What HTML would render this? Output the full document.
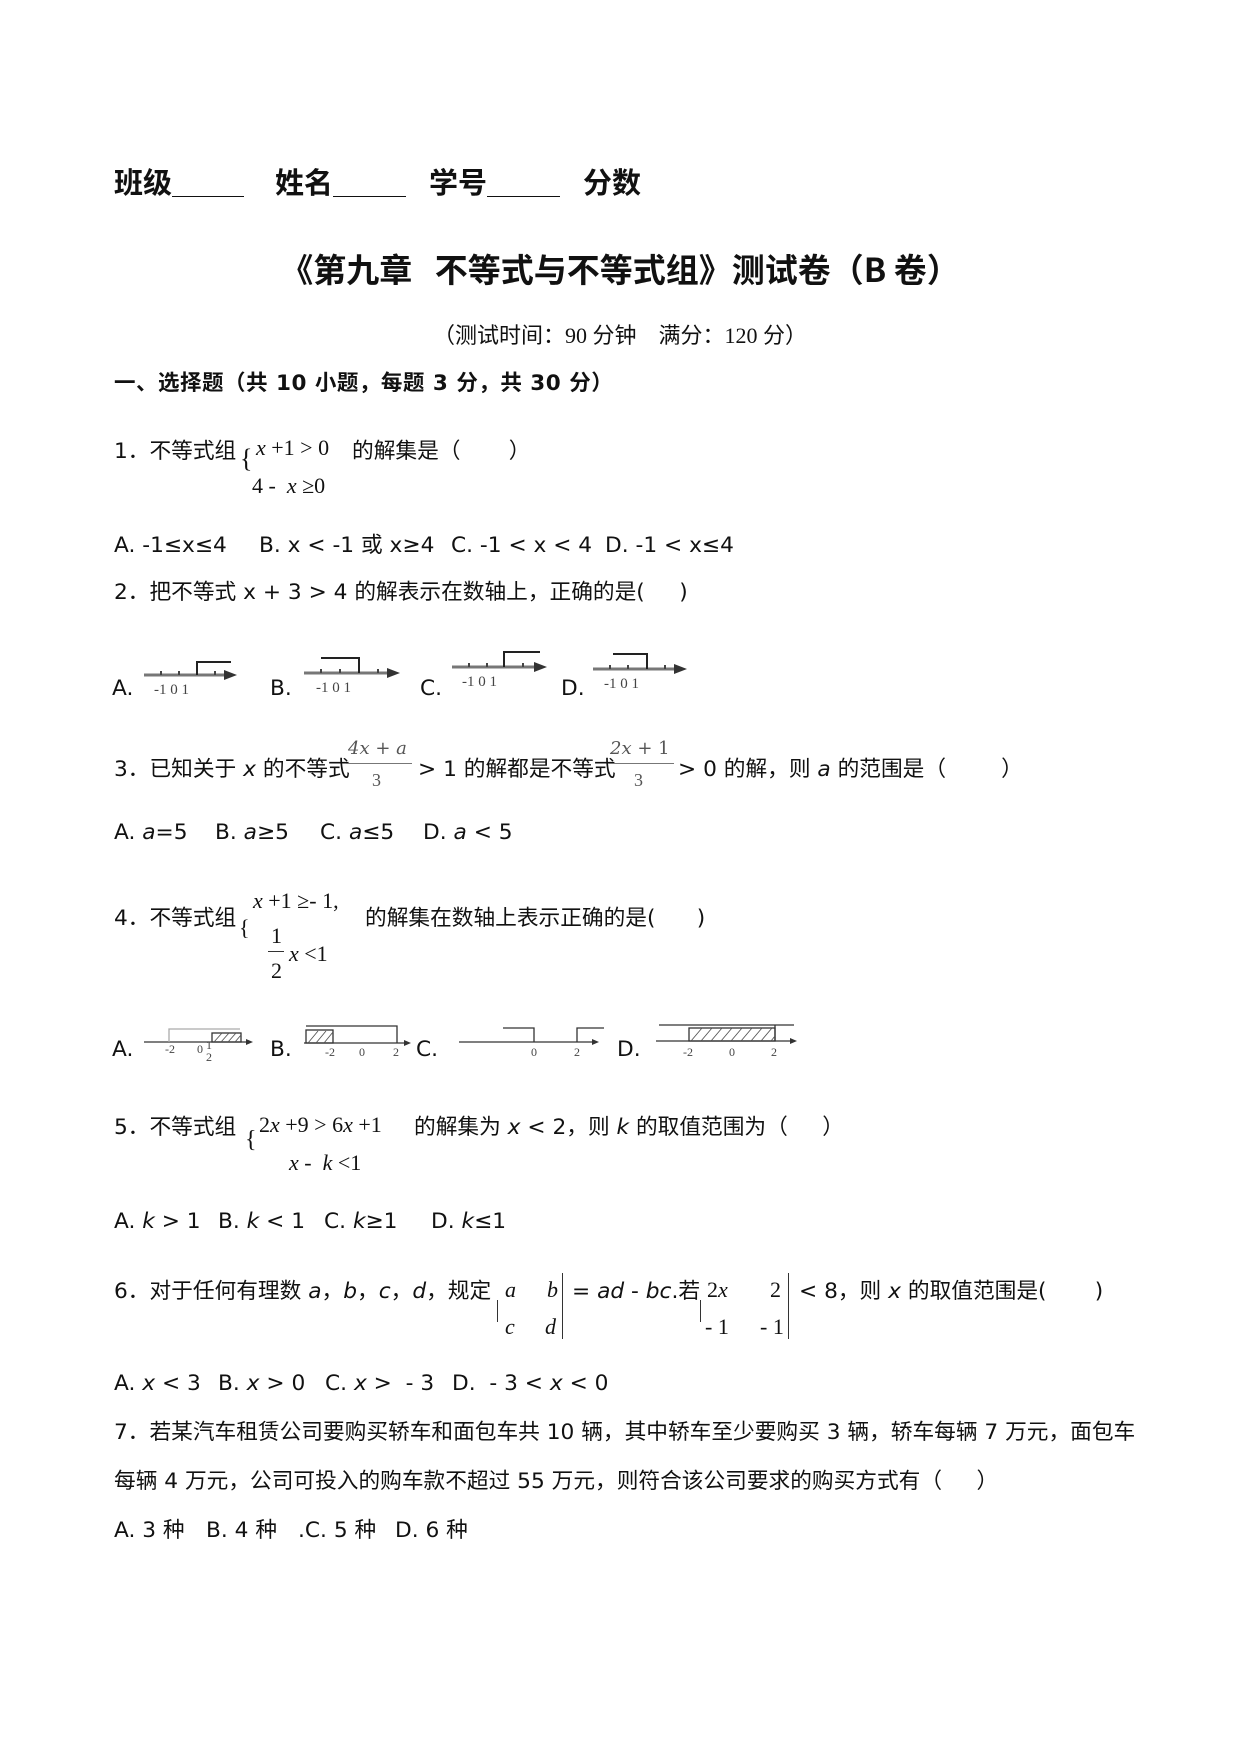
<!DOCTYPE html>
<html><head><meta charset="utf-8"><style>
body{margin:0;width:1240px;height:1754px;background:#fff;position:relative;overflow:hidden;font-family:"DejaVu Sans","Noto Sans CJK SC",sans-serif;color:#111;}
.t{position:absolute;white-space:nowrap;font-size:21.7px;line-height:26px;}
.m{position:absolute;white-space:nowrap;font-family:"Liberation Serif","Noto Serif CJK SC",serif;font-size:22px;line-height:24px;}
.h{position:absolute;white-space:nowrap;font-family:"Noto Sans CJK SC",sans-serif;font-weight:bold;font-size:29px;line-height:34px;}
.u{position:absolute;border-top:1.5px solid #111;}
i{font-style:italic}
.b{font-weight:bold}
svg{position:absolute}
</style></head><body>
<div class="h" style="left:114px;top:164px;">班级</div><div class="u" style="left:172px;top:196px;width:72px"></div>
<div class="h" style="left:275px;top:164px;">姓名</div><div class="u" style="left:333px;top:196px;width:73px"></div>
<div class="h" style="left:429px;top:164px;">学号</div><div class="u" style="left:487px;top:196px;width:73px"></div>
<div class="h" style="left:583px;top:164px;">分数</div>
<div class="h" style="left:0;width:1240px;text-align:center;top:248px;font-size:33px;line-height:40px;">《第九章&nbsp;&nbsp;&nbsp;不等式与不等式组》测试卷（B 卷）</div>
<div class="t" style="left:0;width:1240px;text-align:center;top:323px;font-size:22px;font-family:'Liberation Serif','Noto Sans CJK SC',serif;">（测试时间：90 分钟&nbsp;&nbsp;&nbsp;&nbsp;满分：120 分）</div>
<div class="t b" style="left:114px;top:371px;font-size:21.5px;letter-spacing:0.5px;">一、选择题（共 10 小题，每题 3 分，共 30 分）</div>

<div class="t" style="left:114px;top:439px;">1．不等式组</div>
<div class="m" style="left:240px;top:447px;font-size:26px;">{</div>
<div class="m" style="left:256px;top:436px;"><i>x</i> +1 &gt; 0</div>
<div class="m" style="left:252px;top:474px;">4 - &nbsp;<i>x</i> ≥0</div>
<div class="t" style="left:352px;top:439px;">的解集是（&nbsp;&nbsp;&nbsp;&nbsp;&nbsp;&nbsp;&nbsp;）</div>

<div class="t" style="left:114px;top:533px;">A. -1≤x≤4</div>
<div class="t" style="left:259px;top:533px;">B. x &lt; -1 或 x≥4</div>
<div class="t" style="left:451px;top:533px;">C. -1 &lt; x &lt; 4</div>
<div class="t" style="left:605px;top:533px;">D. -1 &lt; x≤4</div>
<div class="t" style="left:114px;top:580px;">2．把不等式 x + 3 &gt; 4 的解表示在数轴上，正确的是(&nbsp;&nbsp;&nbsp;&nbsp;&nbsp;)</div>

<div class="t" style="left:112px;top:676px;">A.</div>
<div class="t" style="left:270px;top:676px;">B.</div>
<div class="t" style="left:420px;top:676px;">C.</div>
<div class="t" style="left:561px;top:676px;">D.</div>
<svg style="left:0;top:0" width="1240" height="1754" font-family="Liberation Serif" font-size="15" fill="#444">
<g stroke="#777" stroke-width="3" fill="none">
<line x1="144" y1="675" x2="226" y2="675"/><line x1="304" y1="673" x2="389" y2="673"/><line x1="452" y1="667" x2="536" y2="667"/><line x1="593" y1="669" x2="676" y2="669"/>
</g>
<g fill="#333"><polygon points="224,670 237,675 224,680"/><polygon points="387,668 400,673 387,678"/><polygon points="534,662 547,667 534,672"/><polygon points="674,664 687,669 674,674"/></g>
<g stroke="#444" stroke-width="2">
<path d="M161,671v4M179,671v4M215,671v4M321,669v4M340,669v4M378,669v4M469,663v4M487,663v4M523,663v4M610,665v4M628,665v4M665,665v4"/>
</g>
<g stroke="#222" stroke-width="2" fill="none">
<polyline points="197,675 197,662 231,662"/><polyline points="321,658 359,658 359,673"/><polyline points="504,667 504,652 540,652"/><polyline points="613,654 647,654 647,669"/>
</g>
<text x="154" y="694">-1 0 1</text><text x="316" y="692">-1 0 1</text><text x="462" y="686">-1 0 1</text><text x="604" y="688">-1 0 1</text>
<!-- Q4 -->
<g stroke="#333" stroke-width="1.3" fill="none">
<line x1="144" y1="1042" x2="246" y2="1042"/><polyline points="169,1042 169,1029 240,1029" stroke="#aaa"/><rect x="212" y="1033" width="29" height="9"/>
<line x1="304" y1="1043" x2="404" y2="1043"/><polyline points="306,1026 397,1026 397,1043"/><rect x="306" y="1030" width="27" height="13"/>
<line x1="459" y1="1042" x2="592" y2="1042"/><polyline points="503,1028 534,1028 534,1042"/><polyline points="577,1042 577,1028 604,1028"/>
<line x1="656" y1="1041" x2="790" y2="1041"/><line x1="659" y1="1025" x2="794" y2="1025"/><line x1="775" y1="1025" x2="775" y2="1041"/><rect x="689" y="1028" width="86" height="13"/>
</g>
<g fill="#333"><polygon points="246,1039 253,1042 246,1045"/><polygon points="404,1040 411,1043 404,1046"/><polygon points="592,1039 599,1042 592,1045"/><polygon points="790,1038 797,1041 790,1044"/></g>
<g stroke="#555" stroke-width="0.9"><path d="M214,1042l8,-9M221,1042l8,-9M228,1042l8,-9M235,1042l6,-7M308,1043l10,-12M316,1043l10,-12M324,1043l9,-11M691,1041l11,-13M701,1041l11,-13M711,1041l11,-13M721,1041l11,-13M731,1041l11,-13M741,1041l11,-13M751,1041l11,-13M761,1041l11,-13M771,1041l4,-5"/></g>
<g font-size="12"><text x="165" y="1053">-2</text><text x="197" y="1053">0</text><text x="206" y="1049">1</text><text x="206" y="1061">2</text><text x="325" y="1056">-2</text><text x="359" y="1056">0</text><text x="393" y="1056">2</text><text x="531" y="1056">0</text><text x="574" y="1056">2</text><text x="683" y="1056">-2</text><text x="729" y="1056">0</text><text x="771" y="1056">2</text></g>
</svg>
<div class="t" style="left:112px;top:1037px;">A.</div>
<div class="t" style="left:270px;top:1037px;">B.</div>
<div class="t" style="left:416px;top:1037px;">C.</div>
<div class="t" style="left:617px;top:1037px;">D.</div>

<div class="t" style="left:114px;top:757px;">3．已知关于 <i>x</i> 的不等式</div>
<div class="m" style="left:348px;top:737px;font-family:'DejaVu Serif',serif;font-size:18px;color:#555"><i>4x</i> + <i>a</i></div>
<div style="position:absolute;left:346px;top:763px;width:66px;border-top:1px solid #777"></div>
<div class="m" style="left:372px;top:768px;font-size:18px;color:#555">3</div>
<div class="t" style="left:418px;top:757px;">&gt; 1 的解都是不等式</div>
<div class="m" style="left:610px;top:737px;font-family:'DejaVu Serif',serif;font-size:18px;color:#555"><i>2x</i> + 1</div>
<div style="position:absolute;left:608px;top:763px;width:66px;border-top:1px solid #777"></div>
<div class="m" style="left:634px;top:768px;font-size:18px;color:#555">3</div>
<div class="t" style="left:678px;top:757px;">&gt; 0 的解，则 <i>a</i> 的范围是（&nbsp;&nbsp;&nbsp;&nbsp;&nbsp;&nbsp;&nbsp;&nbsp;）</div>

<div class="t" style="left:114px;top:820px;">A. <i>a</i>=5</div>
<div class="t" style="left:215px;top:820px;">B. <i>a</i>≥5</div>
<div class="t" style="left:320px;top:820px;">C. <i>a</i>≤5</div>
<div class="t" style="left:423px;top:820px;">D. <i>a</i> &lt; 5</div>

<div class="t" style="left:114px;top:906px;">4．不等式组</div>
<div class="m" style="left:239px;top:916px;">{</div>
<div class="m" style="left:253px;top:889px;"><i>x</i> +1 ≥- 1,</div>
<div class="m" style="left:271px;top:924px;">1</div>
<div style="position:absolute;left:268px;top:951px;width:16px;border-top:1px solid #333"></div>
<div class="m" style="left:271px;top:959px;">2</div>
<div class="m" style="left:289px;top:942px;"><i>x</i> &lt;1</div>
<div class="t" style="left:365px;top:906px;">的解集在数轴上表示正确的是(&nbsp;&nbsp;&nbsp;&nbsp;&nbsp;&nbsp;)</div>

<div class="t" style="left:114px;top:1115px;">5．不等式组</div>
<div class="m" style="left:245px;top:1128px;font-size:24px;">{</div>
<div class="m" style="left:259px;top:1113px;">2<i>x</i> +9 &gt; 6<i>x</i> +1</div>
<div class="m" style="left:289px;top:1151px;"><i>x</i> - &nbsp;<i>k</i> &lt;1</div>
<div class="t" style="left:414px;top:1115px;">的解集为 <i>x</i> &lt; 2，则 <i>k</i> 的取值范围为（&nbsp;&nbsp;&nbsp;&nbsp;&nbsp;）</div>

<div class="t" style="left:114px;top:1209px;">A. <i>k</i> &gt; 1</div>
<div class="t" style="left:218px;top:1209px;">B. <i>k</i> &lt; 1</div>
<div class="t" style="left:324px;top:1209px;">C. <i>k</i>≥1</div>
<div class="t" style="left:431px;top:1209px;">D. <i>k</i>≤1</div>

<div class="t" style="left:114px;top:1279px;">6．对于任何有理数 <i>a</i>，<i>b</i>，<i>c</i>，<i>d</i>，规定</div>
<div style="position:absolute;left:497px;top:1300px;height:22px;border-left:1px solid #333"></div>
<div class="m" style="left:505px;top:1278px;"><i>a</i></div><div class="m" style="left:547px;top:1278px;"><i>b</i></div>
<div class="m" style="left:505px;top:1315px;"><i>c</i></div><div class="m" style="left:545px;top:1315px;"><i>d</i></div>
<div style="position:absolute;left:562px;top:1273px;height:66px;border-left:1px solid #333"></div>
<div class="t" style="left:572px;top:1279px;">= <i>ad</i> - <i>bc</i>.若</div>
<div style="position:absolute;left:700px;top:1300px;height:22px;border-left:1px solid #333"></div>
<div class="m" style="left:707px;top:1278px;">2<i>x</i></div><div class="m" style="left:770px;top:1278px;">2</div>
<div class="m" style="left:705px;top:1315px;">- 1</div><div class="m" style="left:760px;top:1315px;">- 1</div>
<div style="position:absolute;left:788px;top:1273px;height:66px;border-left:1px solid #333"></div>
<div class="t" style="left:799px;top:1279px;">&lt; 8，则 <i>x</i> 的取值范围是(&nbsp;&nbsp;&nbsp;&nbsp;&nbsp;&nbsp;&nbsp;)</div>

<div class="t" style="left:114px;top:1371px;">A. <i>x</i> &lt; 3</div>
<div class="t" style="left:218px;top:1371px;">B. <i>x</i> &gt; 0</div>
<div class="t" style="left:325px;top:1371px;">C. <i>x</i> &gt; &nbsp;- 3</div>
<div class="t" style="left:452px;top:1371px;">D. &nbsp;- 3 &lt; <i>x</i> &lt; 0</div>
<div class="t" style="left:114px;top:1420px;">7．若某汽车租赁公司要购买轿车和面包车共 10 辆，其中轿车至少要购买 3 辆，轿车每辆 7 万元，面包车</div>
<div class="t" style="left:114px;top:1469px;">每辆 4 万元，公司可投入的购车款不超过 55 万元，则符合该公司要求的购买方式有（&nbsp;&nbsp;&nbsp;&nbsp;&nbsp;）</div>
<div class="t" style="left:114px;top:1518px;">A. 3 种</div>
<div class="t" style="left:206px;top:1518px;">B. 4 种</div>
<div class="t" style="left:298px;top:1518px;">.C. 5 种</div>
<div class="t" style="left:395px;top:1518px;">D. 6 种</div>
</body></html>
